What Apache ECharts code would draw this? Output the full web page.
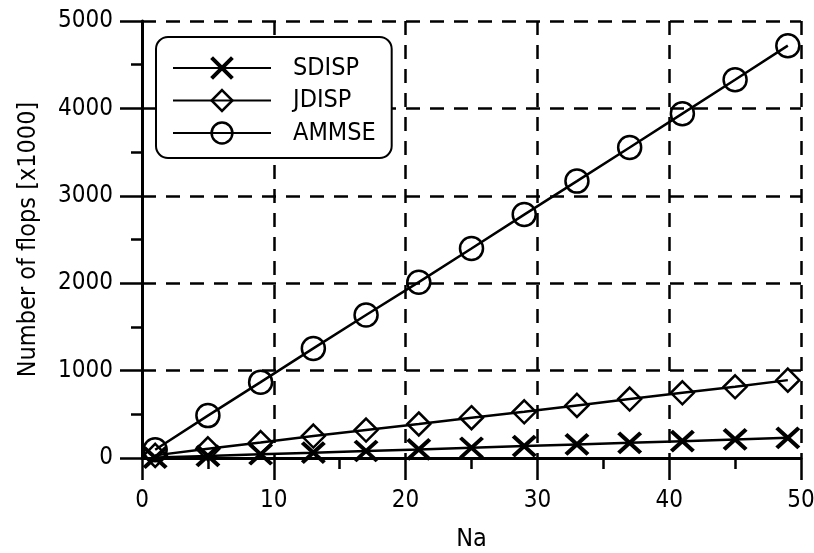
<!DOCTYPE html>
<html>
<head>
<meta charset="utf-8">
<script src="https://cdn.jsdelivr.net/npm/echarts@6/dist/echarts.min.js"></script>
<style>
html,body{margin:0;padding:0;background:#fff;}
#chart{width:814px;height:553px;}
</style>
</head>
<body>
<div id="chart"></div>
<script>
var naValues = [1, 5, 9, 13, 17, 21, 25, 29, 33, 37, 41, 45, 49];
var sdisp = [5, 24, 43, 61, 80, 98, 117, 136, 155, 174, 193, 212, 231];
var jdisp = [30, 105, 177, 251, 320, 389, 461, 529, 602, 674, 746, 815, 891];
var ammse = [95, 485, 868, 1254, 1636, 2012, 2397, 2785, 3168, 3552, 3940, 4328, 4718];
var seriesNames = ['SDISP', 'JDISP', 'AMMSE'];
var xTitle = 'Na';
var yTitle = 'Number of flops [x1000]';

var FONT = '"DejaVu Sans Condensed", "Liberation Sans Narrow", sans-serif';
function pairs(ys) { return naValues.map(function (x, i) { return [x, ys[i]]; }); }
function plain(v) { return String(v); }

var chart = echarts.init(document.getElementById('chart'), null, {renderer: 'canvas'});
var axisCommon = {
  axisLine: {show: true, onZero: false, lineStyle: {color: '#000', width: 3}},
  axisTick: {show: true, inside: false, length: 22, lineStyle: {color: '#000', width: 2.5}},
  minorTick: {show: true, splitNumber: 2, length: 11, lineStyle: {color: '#000', width: 2.5}},
  splitLine: {show: true, lineStyle: {color: '#000', width: 2.5, type: [14, 10]}},
  nameTextStyle: {color: '#000', fontSize: 25, fontFamily: FONT}
};
var option = {
  animation: false,
  backgroundColor: '#fff',
  grid: {left: 142, right: 13, top: 21, bottom: 95, containLabel: false, outerBoundsMode: 'none'},
  xAxis: Object.assign({}, axisCommon, {
    type: 'value', min: 0, max: 50, interval: 10,
    name: xTitle, nameLocation: 'middle', nameGap: 69,
    axisLabel: {color: '#000', fontSize: 24, fontFamily: FONT, margin: 31, formatter: plain}
  }),
  yAxis: Object.assign({}, axisCommon, {
    type: 'value', min: 0, max: 5000, interval: 1000,
    name: yTitle, nameLocation: 'middle', nameGap: 101,
    axisLabel: {color: '#000', fontSize: 24, fontFamily: FONT, margin: 29, formatter: plain}
  }),
  legend: {
    show: true, orient: 'vertical', left: 156, top: 37,
    padding: [18, 16, 12, 16],
    itemWidth: 98, itemHeight: 26, itemGap: 6.5,
    borderColor: '#000', borderWidth: 2, borderRadius: 12,
    backgroundColor: '#fff',
    textStyle: {color: '#000', fontSize: 25, fontFamily: FONT, lineHeight: 26, padding: [0, 0, 0, 17]},
    data: [
      {name: seriesNames[0], itemStyle: {borderWidth: 4}},
      {name: seriesNames[1], itemStyle: {borderWidth: 2.5}},
      {name: seriesNames[2], itemStyle: {borderWidth: 2.5}}
    ]
  },
  series: [
    {
      name: seriesNames[0], type: 'line', data: pairs(sdisp),
      symbol: 'path://M0,0L20,20M20,0L0,20', symbolSize: [22, 20],
      lineStyle: {color: '#000', width: 2.5},
      itemStyle: {color: 'none', borderColor: '#000', borderWidth: 4},
      z: 3
    },
    {
      name: seriesNames[1], type: 'line', data: pairs(jdisp),
      symbol: 'diamond', symbolSize: [23, 23],
      lineStyle: {color: '#000', width: 2.5},
      itemStyle: {color: 'none', borderColor: '#000', borderWidth: 2.5},
      z: 3
    },
    {
      name: seriesNames[2], type: 'line', data: pairs(ammse),
      symbol: 'circle', symbolSize: 23,
      lineStyle: {color: '#000', width: 2.5},
      itemStyle: {color: 'none', borderColor: '#000', borderWidth: 2.5},
      z: 3
    }
  ]
};
chart.setOption(option);
</script>
</body>
</html>
